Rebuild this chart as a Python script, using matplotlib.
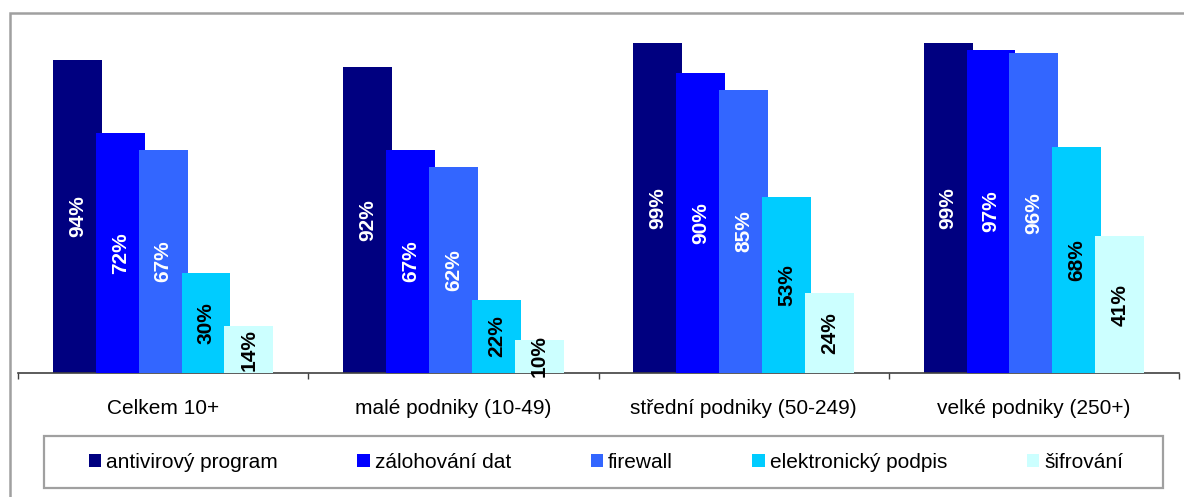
import numpy as np
from matplotlib import pyplot as plt
from matplotlib.patches import Rectangle

categories = ["Celkem 10+", "malé podniky (10-49)", "střední podniky (50-249)", "velké podniky (250+)"]
series_names = ["antivirový program", "zálohování dat", "firewall", "elektronický podpis", "šifrování"]
antivirus = [94, 92, 99, 99]
zalohovani = [72, 67, 90, 97]
firewall = [67, 62, 85, 96]
podpis = [30, 22, 53, 68]
sifrovani = [14, 10, 24, 41]

colors = ["#000080", "#0000FF", "#3366FF", "#00CCFF", "#CCFFFF"]
label_colors = ["white", "white", "white", "black", "black"]

plt.rcParams['font.family'] = ['Liberation Sans', 'DejaVu Sans']

W, H = 1184, 497
fig = plt.figure(figsize=(W / 100, H / 100), dpi=100)
ax = fig.add_axes([18 / W, 1 - 373 / H, (1179 - 18) / W, (373 - 40) / H])

series = [antivirus, zalohovani, firewall, podpis, sifrovani]
x = np.arange(len(categories))
step = 43 / 291
width = 49 / 291

bars = []
for i, vals in enumerate(series):
    b = ax.bar(x + (i - 2) * step, vals, width, color=colors[i], label=series_names[i], zorder=2 + i)
    bars.append(b)

# labels drawn after all bars, so they sit on top
for i, b in enumerate(bars):
    for rect, v in zip(b, series[i]):
        ax.text(rect.get_x() + rect.get_width() / 2, v / 2, f"{v}%", rotation=90,
                ha="center", va="center", fontsize=15, fontweight="bold",
                color=label_colors[i], zorder=20)

ax.set_xlim(-0.5, len(categories) - 0.5)
ax.set_ylim(0, 100)
ax.set_yticks([])
for s in ["top", "right", "left"]:
    ax.spines[s].set_visible(False)
ax.spines["bottom"].set_color("#404040")
ax.spines["bottom"].set_linewidth(1.2)

ax.set_xticks(np.arange(len(categories) + 1) - 0.5)
ax.set_xticklabels([])
ax.tick_params(axis="x", which="major", length=4, width=1, color="#404040", direction="out")
ax.set_xticks(x, minor=True)
ax.set_xticklabels(categories, minor=True, fontsize=15)
ax.tick_params(axis="x", which="minor", length=0, pad=19)

# legend box
fig.patches.append(Rectangle((44 / W, 1 - 488 / H), (1163 - 44) / W, 52 / H,
                             transform=fig.transFigure, fill=False,
                             edgecolor="#A0A0A0", linewidth=1.6))
fig.legend(loc="center", bbox_to_anchor=(606 / W, 1 - 462 / H), ncol=5, frameon=False,
           fontsize=15, handlelength=0.6, handleheight=0.6, handletextpad=0.25,
           columnspacing=3.8, borderaxespad=0)

# outer chart border (only top and left are visible)
fig.patches.append(Rectangle((10 / W, -0.1), 1.2, 1 - 13 / H + 0.1,
                             transform=fig.transFigure, fill=False,
                             edgecolor="#A0A0A0", linewidth=1.8))

fig.savefig("out.png", dpi=100)
